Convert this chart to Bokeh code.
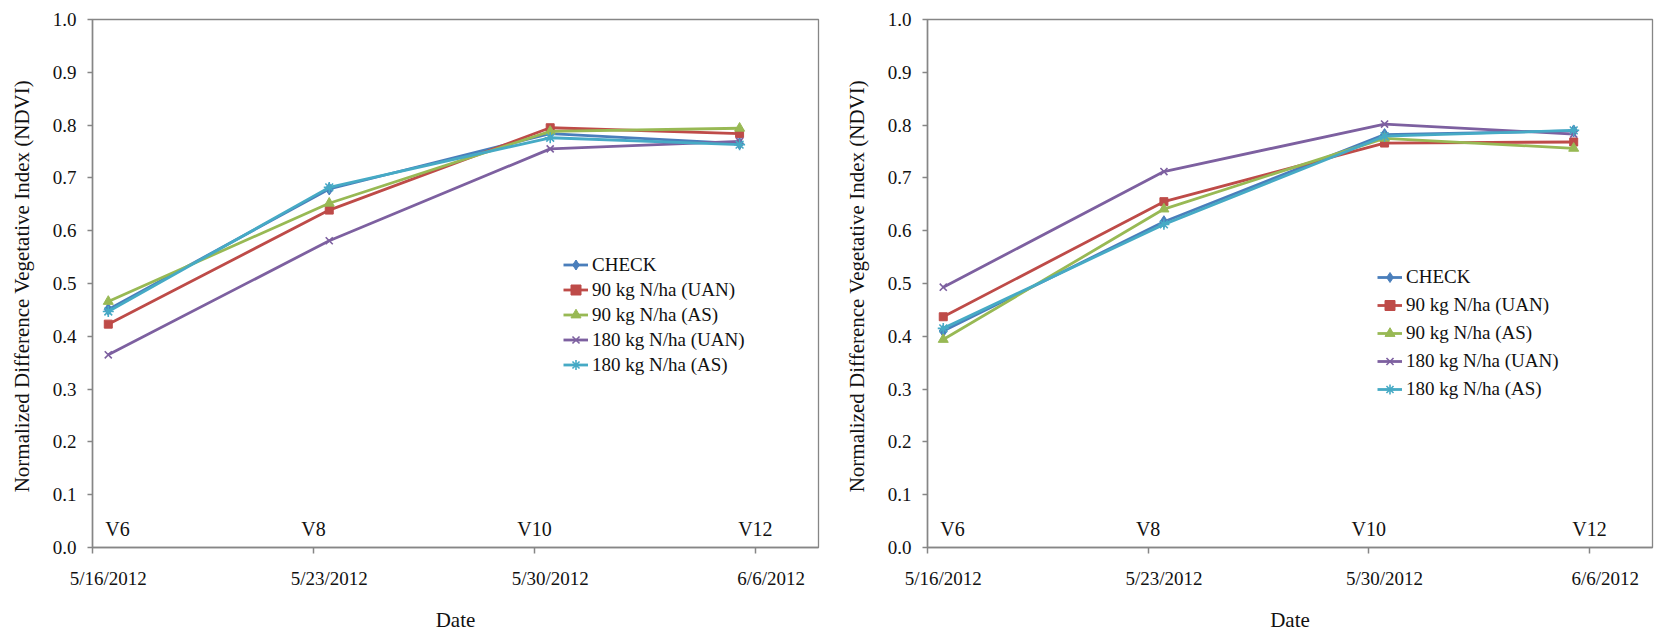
import pandas as pd
from bokeh.plotting import figure
from bokeh.layouts import row
from bokeh.models import (ColumnDataSource, FixedTicker, NumeralTickFormatter,
                          Legend, LegendItem, LabelSet, Range1d)
from bokeh.core.properties import value
from bokeh.embed import file_html
from bokeh.resources import INLINE

# Sampling dates and axis labelling
sample_dates = ["2012-05-16", "2012-05-23", "2012-05-30", "2012-06-05"]
tick_dates = ["2012-05-16", "2012-05-23", "2012-05-30", "2012-06-06"]
tick_labels = ["5/16/2012", "5/23/2012", "5/30/2012", "6/6/2012"]
stage_labels = ["V6", "V8", "V10", "V12"]
y_ticks = [0.0, 0.1, 0.2, 0.3, 0.4, 0.5, 0.6, 0.7, 0.8, 0.9, 1.0]

treatments = ["CHECK", "90 kg N/ha (UAN)", "90 kg N/ha (AS)",
              "180 kg N/ha (UAN)", "180 kg N/ha (AS)"]

# NDVI, first site
site1_check = [0.451, 0.679, 0.784, 0.765]
site1_uan90 = [0.423, 0.639, 0.795, 0.784]
site1_as90 = [0.466, 0.652, 0.788, 0.794]
site1_uan180 = [0.365, 0.581, 0.755, 0.769]
site1_as180 = [0.447, 0.682, 0.776, 0.763]

# NDVI, second site
site2_check = [0.410, 0.617, 0.782, 0.789]
site2_uan90 = [0.437, 0.655, 0.766, 0.768]
site2_as90 = [0.394, 0.641, 0.775, 0.756]
site2_uan180 = [0.493, 0.712, 0.802, 0.783]
site2_as180 = [0.415, 0.612, 0.779, 0.790]

line_colors = ["#4A7EBB", "#BE4B48", "#98B954", "#7D60A0", "#46AAC5"]
markers = ["diamond", "square", "triangle", "x", "asterisk"]
marker_sizes = [12, 8, 10, 10, 11]

FONT = "Liberation Serif"
GRAY = "#868686"
HALF_DAY = pd.Timedelta(hours=12)

x_pts = [pd.Timestamp(d) + HALF_DAY for d in sample_dates]
tick_mid = [pd.Timestamp(d) for d in tick_dates]
tick_ms = [float(t.value // 10**6) for t in tick_mid]
label_ms = [float((t + HALF_DAY).value // 10**6) for t in tick_mid]


def make_chart(series, border_left, border_right, border_top, border_bottom,
               legend_loc, legend_row_h):
    p = figure(width=827, height=634, x_axis_type="datetime",
               output_backend="svg", toolbar_location=None,
               x_range=Range1d(pd.Timestamp("2012-05-16"), pd.Timestamp("2012-06-08")),
               y_range=Range1d(0.0, 1.0),
               min_border_left=border_left, min_border_right=border_right,
               min_border_top=border_top, min_border_bottom=border_bottom)
    p.grid.visible = False
    p.outline_line_color = GRAY
    p.outline_line_width = 1.3
    p.background_fill_color = "white"
    p.border_fill_color = "white"

    # x axis: tick marks at midnight, date labels centred on each day
    xa = p.xaxis[0]
    xa.ticker = FixedTicker(ticks=label_ms, minor_ticks=tick_ms)
    xa.major_label_overrides = {k: v for k, v in zip(label_ms, tick_labels)}
    xa.major_tick_out = 0
    xa.major_tick_in = 0
    xa.minor_tick_out = 6
    xa.minor_tick_in = 0
    xa.minor_tick_line_color = GRAY
    xa.minor_tick_line_width = 1.5
    xa.axis_line_color = GRAY
    xa.axis_line_width = 1.5
    xa.major_label_standoff = 14
    xa.major_label_text_font = FONT
    xa.major_label_text_font_size = "19px"
    xa.major_label_text_color = "#111111"
    xa.axis_label = "Date"
    xa.axis_label_text_font = FONT
    xa.axis_label_text_font_size = "21px"
    xa.axis_label_text_font_style = "normal"
    xa.axis_label_text_color = "#111111"
    xa.axis_label_standoff = 16

    ya = p.yaxis[0]
    ya.ticker = FixedTicker(ticks=y_ticks, minor_ticks=[])
    ya.formatter = NumeralTickFormatter(format="0.0")
    ya.major_tick_out = 5
    ya.major_tick_in = 0
    ya.major_tick_line_color = GRAY
    ya.major_tick_line_width = 1.3
    ya.minor_tick_out = 0
    ya.minor_tick_in = 0
    ya.axis_line_color = GRAY
    ya.axis_line_width = 1.5
    ya.major_label_standoff = 11
    ya.major_label_text_font = FONT
    ya.major_label_text_font_size = "19px"
    ya.major_label_text_color = "#111111"
    ya.axis_label = "Normalized  Difference Vegetative Index (NDVI)"
    ya.axis_label_text_font = FONT
    ya.axis_label_text_font_size = "21px"
    ya.axis_label_text_font_style = "normal"
    ya.axis_label_text_color = "#111111"
    ya.axis_label_standoff = 16

    items = []
    for name, vals, col, mk, ms in zip(treatments, series, line_colors, markers, marker_sizes):
        src = ColumnDataSource(dict(x=x_pts, y=vals))
        lr = p.line("x", "y", source=src, line_color=col, line_width=2.8)
        if mk in ("x", "asterisk"):
            sr = p.scatter("x", "y", source=src, marker=mk, size=ms,
                           line_color=col, line_width=1.6, fill_color=None)
        else:
            sr = p.scatter("x", "y", source=src, marker=mk, size=ms,
                           line_color=col, fill_color=col, line_width=1)
        items.append(LegendItem(label=name, renderers=[lr, sr]))

    legend = Legend(items=items, location=legend_loc,
                    background_fill_alpha=0, border_line_alpha=0,
                    padding=0, margin=0, spacing=0,
                    glyph_width=25, glyph_height=legend_row_h,
                    label_height=legend_row_h, label_standoff=4,
                    label_text_font=FONT, label_text_font_size="19px",
                    label_text_color="#111111")
    p.add_layout(legend)

    stage_src = ColumnDataSource(dict(x=tick_mid, y=[0.0] * len(tick_mid),
                                      text=stage_labels, dx=[25, 0, 0, 0]))
    stages = LabelSet(x="x", y="y", text="text", source=stage_src,
                      x_offset="dx", y_offset=12,
                      text_align="center", text_baseline="alphabetic",
                      text_font=value(FONT), text_font_size=value("20px"),
                      text_color="#111111")
    p.add_layout(stages)
    return p


p1 = make_chart([site1_check, site1_uan90, site1_as90, site1_uan180, site1_as180],
                92, 9, 17, 77, (471, 170), 25)
p2 = make_chart([site2_check, site2_uan90, site2_as90, site2_uan180, site2_as180],
                100, 2, 19, 78, (450, 144), 28)

layout = row(p1, p2)
open("out.html", "w").write(file_html(layout, INLINE))
